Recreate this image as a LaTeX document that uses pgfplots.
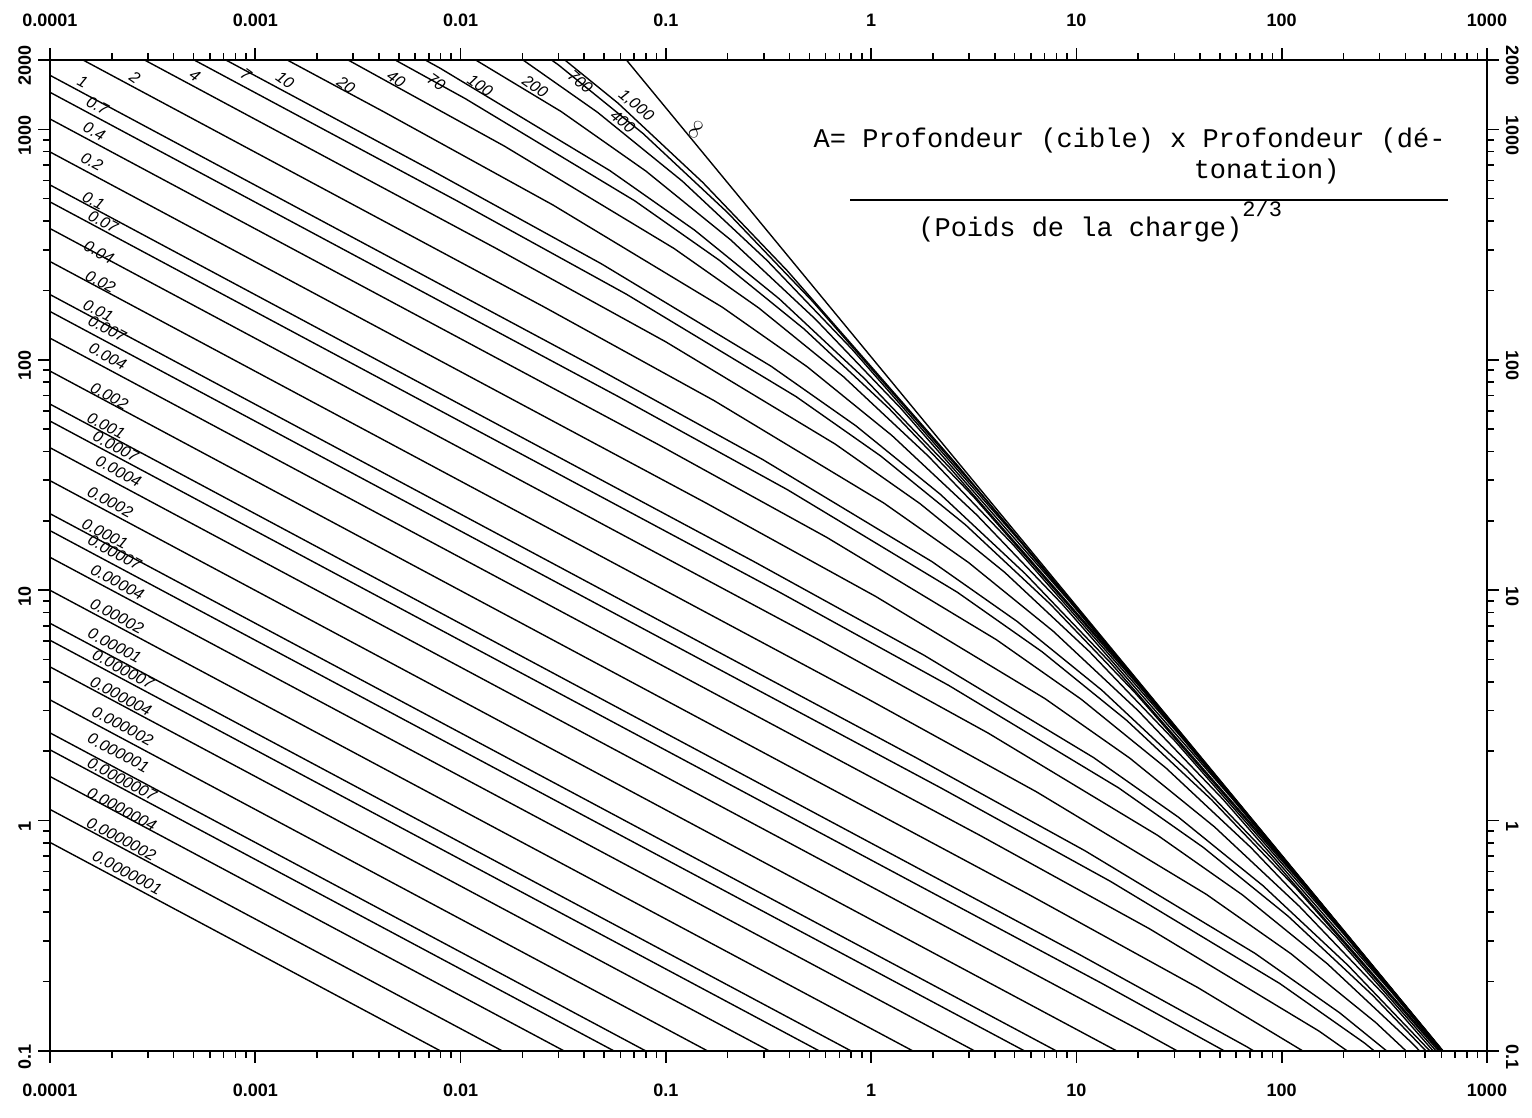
\documentclass[border=0pt]{standalone}
\usepackage{fontspec}
\setmainfont{Liberation Serif}
\setsansfont{Liberation Sans}
\newfontfamily\monofont{Liberation Mono}
\usepackage{pgfplots}
\pgfplotsset{compat=1.18}

\newcommand\tl{\fontsize{9}{10}\selectfont\sffamily\bfseries}
\newcommand\cl{\fontsize{8}{9}\selectfont\sffamily\itshape}

\begin{document}
\begin{tikzpicture}
\useasboundingbox (-25pt,-33.5pt) rectangle (741pt,525.5pt);

\begin{axis}[
    xmode=log, ymode=log,
    xmin=1e-4, xmax=1000, ymin=0.1, ymax=2000,
    scale only axis, width=718.5pt, height=495.5pt,
    at={(0,0)}, anchor=south west,
    tick align=outside,
    major tick length=6pt, minor tick length=3.5pt,
    tick style={black, line width=0.8pt},
    axis line style={line width=1.2pt},
    xtick={1e-4,1e-3,1e-2,1e-1,1,10,100,1000},
    xticklabels={0.0001,0.001,0.01,0.1,1,10,100,1000},
    minor xtick={2e-4,3e-4,4e-4,5e-4,6e-4,7e-4,8e-4,9e-4,
      2e-3,3e-3,4e-3,5e-3,6e-3,7e-3,8e-3,9e-3,
      0.02,0.03,0.04,0.05,0.06,0.07,0.08,0.09,
      0.2,0.3,0.4,0.5,0.6,0.7,0.8,0.9,
      2,3,4,5,6,7,8,9,20,30,40,50,60,70,80,90,
      200,300,400,500,600,700,800,900},
    ytick={0.1,1,10,100,1000,2000},
    yticklabels={0.1,1,10,100,1000,2000},
    minor ytick={0.2,0.3,0.4,0.5,0.6,0.7,0.8,0.9,
      2,3,4,5,6,7,8,9,20,30,40,50,60,70,80,90,
      200,300,400,500,600,700,800,900},
    xticklabel pos=lower, yticklabel pos=left,
    xticklabel style={font=\tl, anchor=north, yshift=-7pt},
    yticklabel style={font=\tl, rotate=90, anchor=south, xshift=-3pt},
    cycle list={{black, solid, mark=none}},
    every axis plot/.append style={line width=0.7pt, line join=round},
  ]

% A = 1e-7 ... 2e-4 (straight part only)
\addplot coordinates {(1e-4,0.804) (0.01298,0.07943)};
\addplot coordinates {(1e-4,1.118) (0.02596,0.07943)};
\addplot coordinates {(1e-4,1.554) (0.05192,0.07943)};
\addplot coordinates {(1e-4,2.028) (0.09086,0.07943)};
\addplot coordinates {(1e-4,2.403) (0.1298,0.07943)};
\addplot coordinates {(1e-4,3.342) (0.2596,0.07943)};
\addplot coordinates {(1e-4,4.647) (0.5192,0.07943)};
\addplot coordinates {(1e-4,6.062) (0.9086,0.07943)};
\addplot coordinates {(1e-4,7.184) (1.298,0.07943)};
\addplot coordinates {(1e-4,9.99) (2.596,0.07943)};
\addplot coordinates {(1e-4,13.89) (5.192,0.07943)};
\addplot coordinates {(1e-4,18.13) (9.086,0.07943)};
\addplot coordinates {(1e-4,21.48) (12.98,0.07943)};
\addplot coordinates {(1e-4,29.87) (35.64,0.06776)};
% A = 4e-4, 7e-4
\addplot coordinates {(1e-4,41.53) (20.67,0.1221) (138.5,0.04798)};
\addplot coordinates {(1e-4,54.19) (13.32,0.1964) (89.24,0.07718)};
% A = 1e-3 ... 7e-3
\addplot coordinates {(1e-4,64.22) (10.06,0.2658) (67.4,0.1045) (451.5,0.03759)};
\addplot coordinates {(1e-4,89.30) (5.837,0.4788) (39.10,0.1883) (261.9,0.06771)};
\addplot coordinates {(1e-4,124.1) (3.387,0.8627) (22.69,0.3392) (152.0,0.1220) (393.3,0.06727)};
\addplot coordinates {(1e-4,162.0) (2.183,1.387) (14.62,0.5453) (97.93,0.1962) (253.4,0.1082) (656.1,0.0544)};
% A = 0.01 ... 0.07
\addplot coordinates {(1e-4,191.9) (1.649,1.878) (11.04,0.7386) (73.98,0.2656) (191.5,0.1465) (495.6,0.07369)};
\addplot coordinates {(1e-4,266.9) (0.9563,3.384) (6.407,1.331) (42.92,0.4786) (111.1,0.2640) (287.4,0.1328) (743.9,0.06008)};
\addplot coordinates {(1e-4,371.1) (0.5548,6.095) (3.717,2.397) (24.90,0.8621) (64.46,0.4754) (166.8,0.2391) (431.7,0.1082) (1117,0.04465)};
\addplot coordinates {(1e-4,484.3) (0.3575,9.804) (2.395,3.855) (16.04,1.387) (41.52,0.7647) (107.5,0.3846) (278.2,0.1740) (720.0,0.07181)};
% A = 0.1 ... 0.7
\addplot coordinates {(1e-4,573.8) (0.2701,13.27) (1.809,5.221) (12.12,1.877) (31.37,1.035) (81.22,0.5208) (210.1,0.2356) (543.9,0.09723) (3643,0.0140)};
\addplot coordinates {(1e-4,798.0) (0.1567,23.91) (1.050,9.404) (7.031,3.382) (18.20,1.866) (47.10,0.9382) (121.9,0.4245) (315.5,0.1752) (2113,0.02523)};
\addplot coordinates {(1e-4,1109) (0.09092,43.07) (0.6091,16.93) (4.079,6.092) (10.56,3.360) (27.33,1.690) (70.73,0.7645) (183.0,0.3155) (1226,0.04543)};
\addplot coordinates {(1e-4,1448) (0.05857,69.27) (0.3925,27.24) (2.628,9.797) (6.803,5.403) (17.61,2.718) (45.58,1.230) (118.0,0.5074) (790.3,0.07306)};
% A = 1 ... 7
\addplot coordinates {(1e-4,1716) (0.04424,93.82) (0.2964,36.89) (1.986,13.27) (5.141,7.318) (13.30,3.681) (34.43,1.665) (89.11,0.6873) (596.9,0.09895) (3998,0.01303)};
\addplot coordinates {(1e-4,2386) (0.02567,169.0) (0.1719,66.45) (1.152,23.89) (2.982,13.18) (7.716,6.630) (19.97,3.000) (51.69,1.238) (346.3,0.1782) (2320,0.02348)};
\addplot coordinates {(1e-4,3317) (0.01489,304.4) (0.09977,119.7) (0.6683,43.05) (1.730,23.74) (4.477,11.94) (11.59,5.403) (29.99,2.230) (200.9,0.3211) (1346,0.04229)};
\addplot coordinates {(1e-4,4328) (0.009596,489.6) (0.06427,192.5) (0.4306,69.22) (1.115,38.19) (2.884,19.20) (7.467,8.690) (19.32,3.585) (129.4,0.5163) (867.2,0.06801)};
% A = 10 ... 1000
\addplot coordinates {(1e-4,5130) (0.00725,663.0) (0.04858,260.7) (0.3253,93.76) (0.8419,51.71) (2.179,26.01) (5.640,11.77) (14.60,4.858) (97.79,0.6991) (655.1,0.09211) (1150,0.05012)};
\addplot coordinates {(1e-4,7133) (0.004206,1194) (0.02818,469.6) (0.1887,168.9) (0.4885,93.18) (1.264,46.87) (3.272,21.20) (8.470,8.750) (56.73,1.260) (380.0,0.1660) (1150,0.05012)};
\addplot coordinates {(1e-4,9915) (0.002441,2151) (0.01634,845.9) (0.1095,304.2) (0.2835,167.8) (0.7334,84.40) (1.898,38.19) (4.914,15.76) (32.91,2.269) (220.5,0.2988) (1150,0.05012)};
\addplot coordinates {(1e-4,12940) (0.001572,3460) (0.01053,1360) (0.07056,489.4) (0.1826,269.9) (0.4726,135.7) (1.223,61.42) (3.166,25.35) (21.21,3.649) (142.1,0.4807) (1150,0.05012)};
\addplot coordinates {(1e-4,15330) (0.001188,4685) (0.007955,1842) (0.05329,662.5) (0.1379,365.4) (0.3569,183.8) (0.9240,83.17) (2.392,34.31) (16.02,4.941) (107.3,0.6510) (1150,0.05012)};
\addplot coordinates {(1e-4,21310) (0.0006891,8442) (0.004616,3319) (0.03092,1194) (0.08000,658.5) (0.2071,331.1) (0.5360,149.8) (1.388,61.83) (9.294,8.902) (62.26,1.173) (1150,0.05012)};
\addplot coordinates {(1e-4,29560) (0.0003996,15200) (0.002678,5977) (0.01794,2150) (0.04644,1186) (0.1202,596.3) (0.3110,269.9) (0.8050,111.4) (5.393,16.03) (36.13,2.112) (1150,0.05012)};
\addplot coordinates {(0.0002576,24450) (0.001725,9614) (0.01156,3457) (0.02991,1907) (0.07742,959.2) (0.2004,434.1) (0.5187,179.1) (3.475,25.78) (23.28,3.397) (1150,0.05012)};
\addplot coordinates {(0.0001946,33110) (0.001303,13020) (0.008733,4683) (0.02260,2583) (0.05848,1299) (0.1514,587.8) (0.3918,242.5) (2.625,34.92) (17.59,4.601) (1150,0.05012)};
% A = infinity
\addplot coordinates {(0.0501,2617) (794.3,0.0754)};

% curve labels
\begin{scope}[every node/.style={font=\cl, inner sep=0pt, rotate=-28}]
\node at (rel axis cs:0.0228,0.978) {1};
\node at (rel axis cs:0.0331,0.954) {0.7};
\node at (rel axis cs:0.0308,0.928) {0.4};
\node at (rel axis cs:0.0292,0.897) {0.2};
\node at (rel axis cs:0.0303,0.858) {0.1};
\node at (rel axis cs:0.0370,0.837) {0.07};
\node at (rel axis cs:0.0341,0.806) {0.04};
\node at (rel axis cs:0.0352,0.776) {0.02};
\node at (rel axis cs:0.0336,0.747) {0.01};
\node at (rel axis cs:0.0398,0.729) {0.007};
\node at (rel axis cs:0.0402,0.701) {0.004};
\node at (rel axis cs:0.0413,0.661) {0.002};
\node at (rel axis cs:0.0390,0.631) {0.001};
\node at (rel axis cs:0.0458,0.610) {0.0007};
\node at (rel axis cs:0.0477,0.585) {0.0004};
\node at (rel axis cs:0.0419,0.554) {0.0002};
\node at (rel axis cs:0.0382,0.522) {0.0001};
\node at (rel axis cs:0.0450,0.503) {0.00007};
\node at (rel axis cs:0.0469,0.473) {0.00004};
\node at (rel axis cs:0.0466,0.439) {0.00002};
\node at (rel axis cs:0.0450,0.409) {0.00001};
\node at (rel axis cs:0.0510,0.385) {0.000007};
\node at (rel axis cs:0.0494,0.358) {0.000004};
\node at (rel axis cs:0.0506,0.328) {0.000002};
\node at (rel axis cs:0.0476,0.301) {0.000001};
\node at (rel axis cs:0.0502,0.274) {0.0000007};
\node at (rel axis cs:0.0500,0.244) {0.0000004};
\node at (rel axis cs:0.0497,0.214) {0.0000002};
\node at (rel axis cs:0.0537,0.180) {0.0000001};
\end{scope}
\begin{scope}[every node/.style={font=\cl, inner sep=0pt, rotate=-35}]
\node at (rel axis cs:0.0591,0.982) {2};
\node at (rel axis cs:0.1009,0.984) {4};
\node at (rel axis cs:0.1364,0.9855) {7};
\node at (rel axis cs:0.1636,0.980) {10};
\node at (rel axis cs:0.2060,0.975) {20};
\node at (rel axis cs:0.2409,0.981) {40};
\node at (rel axis cs:0.2688,0.978) {70};
\node at (rel axis cs:0.2994,0.974) {100};
\node at (rel axis cs:0.3377,0.973) {200};
\node[rotate=-5] at (rel axis cs:0.3691,0.978) {700};
\node[rotate=-5] at (rel axis cs:0.4078,0.954) {1,000};
\node[rotate=-5] at (rel axis cs:0.3986,0.938) {400};
\end{scope}
\node[font=\fontsize{10}{10}\selectfont, rotate=60, inner sep=0pt] at (rel axis cs:0.4494,0.930) {$\infty$};

% formula
\node[font=\monofont\fontsize{13.5}{15}\selectfont, anchor=east, inner sep=0pt] at (rel axis cs:0.9715,0.919) {A= Profondeur (cible) x Profondeur (dé-};
\node[font=\monofont\fontsize{13.5}{15}\selectfont, anchor=east, inner sep=0pt] at (rel axis cs:0.8977,0.887) {tonation)};
\draw[line width=1pt] (rel axis cs:0.557,0.859) -- (rel axis cs:0.973,0.859);
\node[font=\monofont\fontsize{13.5}{15}\selectfont, anchor=west, inner sep=0pt] at (rel axis cs:0.604,0.837) {(Poids de la charge)\raisebox{1.4ex}{\fontsize{11}{12}\selectfont 2/3}};
\end{axis}

\begin{axis}[
    xmode=log, ymode=log,
    xmin=1e-4, xmax=1000, ymin=0.1, ymax=2000,
    scale only axis, width=718.5pt, height=495.5pt,
    at={(0,0)}, anchor=south west,
    tick align=outside,
    major tick length=6pt, minor tick length=3.5pt,
    tick style={black, line width=0.8pt},
    axis line style={line width=1.2pt},
    xtick={1e-4,1e-3,1e-2,1e-1,1,10,100,1000},
    xticklabels={0.0001,0.001,0.01,0.1,1,10,100,1000},
    minor xtick={},
    ytick={0.1,1,10,100,1000,2000},
    yticklabels={0.1,1,10,100,1000,2000},
    minor ytick={},
    xticklabel pos=upper, yticklabel pos=right,
    xticklabel style={font=\tl, anchor=south, yshift=7pt},
    yticklabel style={font=\tl, rotate=-90, anchor=south, xshift=3pt},
  ]
\addplot[draw=none, mark=none] coordinates {(1,1)};
\end{axis}
\end{tikzpicture}
\end{document}
